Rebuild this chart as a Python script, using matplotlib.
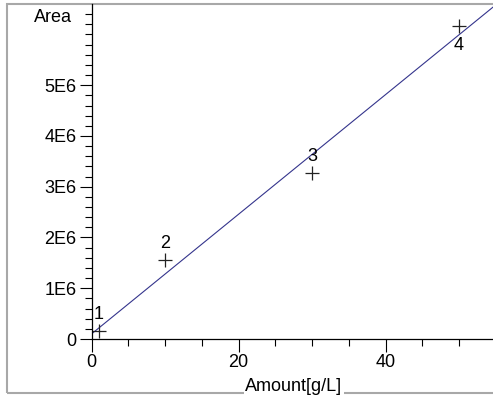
import matplotlib
matplotlib.use("Agg")
import matplotlib.pyplot as plt
import numpy as np
from matplotlib.patches import Rectangle

plt.rcParams['font.family'] = ['Liberation Sans', 'DejaVu Sans']

# calibration standards: amount (g/L) and measured peak area
amount = [1, 10, 30, 50]
area = [0.15e6, 1.55e6, 3.27e6, 6.16e6]
point_labels = ['1', '2', '3', '4']

y_ticks = [0, 1e6, 2e6, 3e6, 4e6, 5e6]
y_tick_labels = ['0', '1E6', '2E6', '3E6', '4E6', '5E6']
x_ticks = [0, 20, 40]

# least squares calibration line
slope, intercept = np.polyfit(amount, area, 1)

fig = plt.figure(figsize=(4.93, 3.99), dpi=100)

# grey frame around the whole plot, drawn underneath the axes
fig.patches.append(Rectangle((7 / 493, 6 / 399), 1.0, 389 / 399, transform=fig.transFigure,
                             fill=False, edgecolor='#a8a8a8', linewidth=1.5, zorder=-1))

ax = fig.add_axes([91.7 / 493, 60 / 399, 404 / 493, 335 / 399])
ax.patch.set_visible(False)

xs = np.array([0, 55])
ax.plot(xs, slope * xs + intercept, color='#34348c', linewidth=0.8)
ax.plot(amount, area, '+', color='#222222', markersize=10, markeredgewidth=0.9)

# number each standard, the last one underneath
for x, y, t in zip(amount, area, point_labels):
    if t == '4':
        ax.annotate(t, (x, y), xytext=(0, -8), textcoords='offset points',
                    ha='center', va='top', fontsize=13)
    else:
        ax.annotate(t, (x, y), xytext=(0, 6), textcoords='offset points',
                    ha='center', va='bottom', fontsize=13)

ax.set_xlim(0, 55)
ax.set_ylim(0, 6.6e6)
ax.set_xticks(x_ticks)
ax.set_xticks(np.arange(0, 55, 5), minor=True)
ax.set_yticks(y_ticks)
ax.set_yticklabels(y_tick_labels)
ax.set_yticks(np.arange(0, 6.6e6, 0.2e6), minor=True)
ax.tick_params(which='major', length=9, width=0.8, labelsize=13, pad=2)
ax.tick_params(which='minor', length=5, width=0.8)

for side in ['top', 'right']:
    ax.spines[side].set_visible(False)
ax.spines['left'].set_linewidth(0.9)
ax.spines['bottom'].set_linewidth(0.9)

# x title sits on the frame line, blanking it out behind the text
ax.set_xlabel('Amount[g/L]', fontsize=13, labelpad=5,
              bbox=dict(facecolor='white', edgecolor='none', pad=1))
ax.text(-0.05, 6.33e6, 'Area', fontsize=13, ha='right', va='center',
        transform=ax.get_yaxis_transform())

plt.savefig('out.png', dpi=100)
